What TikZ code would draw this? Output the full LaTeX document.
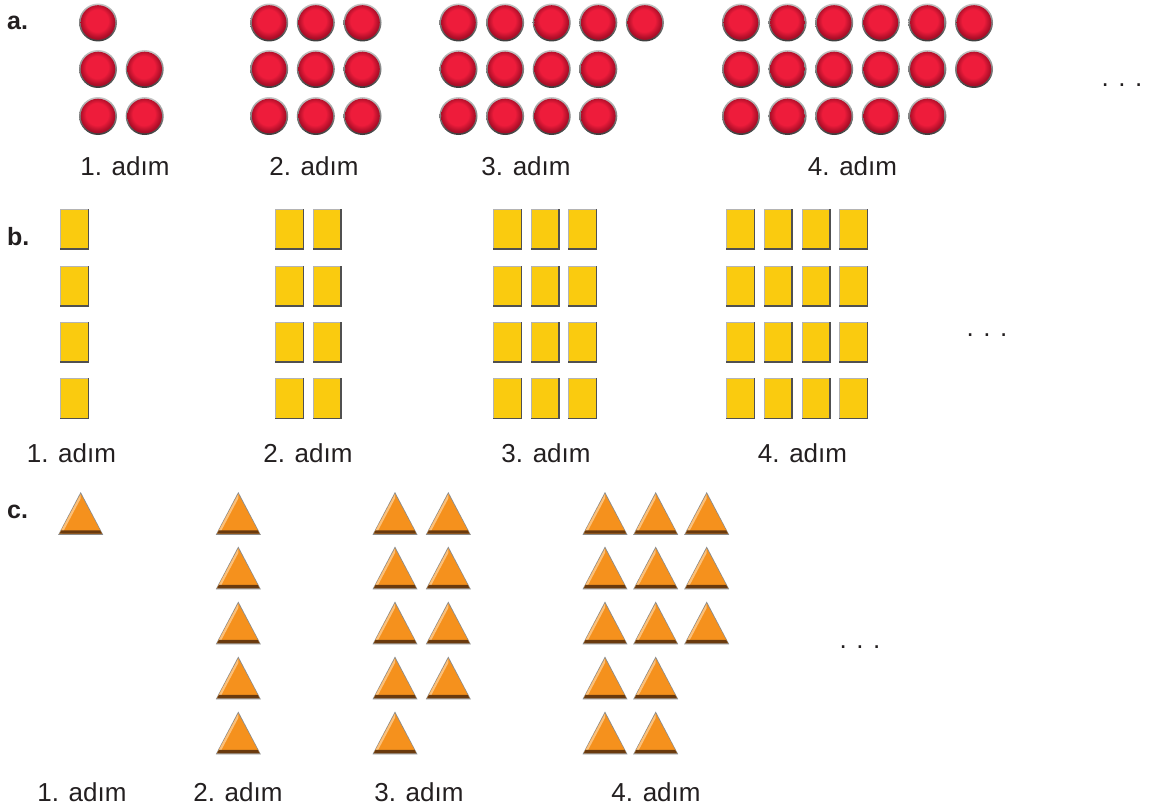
\documentclass[tikz,border=0pt]{standalone}
\usepackage{fontspec}
\setmainfont{Liberation Sans}
\definecolor{txt}{HTML}{231F20}
\definecolor{redA}{HTML}{EE1C3B}
\definecolor{redB}{HTML}{A80D27}
\definecolor{rimL}{HTML}{C8C8C8}
\definecolor{rimD}{HTML}{3A3A3A}
\definecolor{yelA}{HTML}{FACB0F}
\definecolor{tileL}{HTML}{B4B4B4}
\definecolor{tileD}{HTML}{505050}
\definecolor{orA}{HTML}{F5911D}
\definecolor{orL}{HTML}{FBC07A}
\definecolor{orD}{HTML}{6A3A0E}
\definecolor{triEdge}{HTML}{8C8C8C}
\pgfdeclareradialshading{redbead}{\pgfpoint{-2bp}{4bp}}{color(0bp)=(redA); color(16bp)=(redA); color(25bp)=(redB); color(50bp)=(redB)}
\begin{document}
\begin{tikzpicture}[x=1pt,y=-1pt,
  lbl/.style={font=\fontsize{26}{30}\selectfont, text=txt, anchor=base, inner sep=0pt},
  tag/.style={font=\fontsize{25}{30}\selectfont\bfseries, text=txt, anchor=base west, inner sep=0pt},
  redball/.pic={
    \shade[top color=rimL, bottom color=rimD] (0,0) circle (19);
    \shade[shading=redbead] (0,0) circle (17.3);
  },
  yellowtile/.pic={
    \fill[tileD] (-14.5,-20.5) rectangle (14.5,20.5);
    \fill[tileL] (-14.5,-20.5) rectangle (13.2,19.2);
    \fill[yelA] (-13.3,-19.3) rectangle (13.2,19.2);
  },
  orangetri/.pic={
    \fill[triEdge] (0,-0.5) -- (22.5,42.3) -- (-22.5,42.3) -- cycle;
    \fill[orA] (0,1.5) -- (21.2,41.2) -- (-21.2,41.2) -- cycle;
    \fill[orL] (0,1.5) -- (-21.2,41.2) -- (-18.6,41.2) -- (0,6) -- cycle;
    \fill[orD] (-21.2,41.2) -- (21.2,41.2) -- (19.4,37.8) -- (-19.4,37.8) -- cycle;
  }]
\useasboundingbox (0,0) rectangle (1149,808);

% ---------- row a ----------
\node[tag] (taga) at (7,30) {a.};
\pic at (98,22.5) {redball};
\foreach \x in {98,144.7} \foreach \y in {69,116} \pic at (\x,\y) {redball};
\foreach \x in {269.2,315.8,362.5} \foreach \y in {22.5,69,116} \pic at (\x,\y) {redball};
\foreach \k in {0,...,4} \pic at (458.5+46.6*\k,22.5) {redball};
\foreach \k in {0,...,3} \foreach \y in {69,116} \pic at (458.5+46.6*\k,\y) {redball};
\foreach \k in {0,...,5} \foreach \y in {22.5,69} \pic at (741+46.6*\k,\y) {redball};
\foreach \k in {0,...,4} \pic at (741+46.6*\k,116) {redball};
\node[lbl] (a1) at (125,175) {1. adım};
\node[lbl] (a2) at (314,175) {2. adım};
\node[lbl] (a3) at (526,175) {3. adım};
\node[lbl] (a4) at (852.5,175) {4. adım};
\node[lbl] (adots) at (1122,86) {. . .};

% ---------- row b ----------
\node[tag] (tagb) at (7,245) {b.};
\foreach \y in {229,286,342,398.5} {
  \pic at (74.5,\y) {yellowtile};
  \foreach \x in {289.5,327.2} \pic at (\x,\y) {yellowtile};
  \foreach \x in {507.5,545,582.5} \pic at (\x,\y) {yellowtile};
  \foreach \x in {740.5,778,816,853.5} \pic at (\x,\y) {yellowtile};
}
\node[lbl] (b1) at (71.5,462) {1. adım};
\node[lbl] (b2) at (308,462) {2. adım};
\node[lbl] (b3) at (546,462) {3. adım};
\node[lbl] (b4) at (802.5,462) {4. adım};
\node[lbl] (bdots) at (987,336) {. . .};

% ---------- row c ----------
\node[tag] (tagc) at (7,518) {c.};
\pic at (80.7,492.5) {orangetri};
\foreach \y in {492.5,547,602,657,712} \pic at (238.3,\y) {orangetri};
\foreach \y in {492.5,547,602,657} \foreach \x in {395,448.3} \pic at (\x,\y) {orangetri};
\pic at (395,712) {orangetri};
\foreach \y in {492.5,547,602} \foreach \x in {605,655.7,706.7} \pic at (\x,\y) {orangetri};
\foreach \y in {657,712} \foreach \x in {605,655.7} \pic at (\x,\y) {orangetri};
\node[lbl] (c1) at (82,801) {1. adım};
\node[lbl] (c2) at (238,801) {2. adım};
\node[lbl] (c3) at (419,801) {3. adım};
\node[lbl] (c4) at (656,801) {4. adım};
\node[lbl] (cdots) at (860,648) {. . .};
\end{tikzpicture}
\end{document}
